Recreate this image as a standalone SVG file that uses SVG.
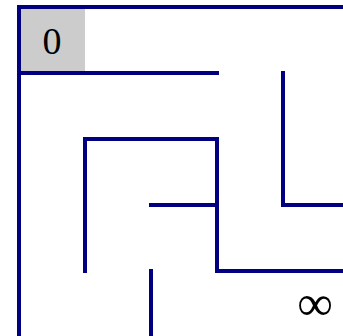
<svg xmlns="http://www.w3.org/2000/svg" width="343" height="336" viewBox="0 0 343 336">
<style>
.w{stroke:#000080;stroke-width:4;stroke-linecap:square;fill:none}
.t{font-family:"Liberation Serif","DejaVu Serif",serif;fill:#000;text-anchor:middle}
</style>
<rect width="343" height="336" fill="#fff"/>
<g id="start"><rect x="19" y="7" width="66" height="66" fill="#cccccc"/><text class="t" x="52" y="53.5" font-size="38">0</text></g>
<g id="end"><text class="t" x="315" y="320" font-size="50">∞</text></g>
<g id="walls">
<path class="w" d="M19 338V7H345"/>
<path class="w" d="M19 73H217"/>
<path class="w" d="M283 73V205H345"/>
<path class="w" d="M85 271V139H217V271H345"/>
<path class="w" d="M151 205H217"/>
<path class="w" d="M151 271V338"/>
</g>
</svg>
